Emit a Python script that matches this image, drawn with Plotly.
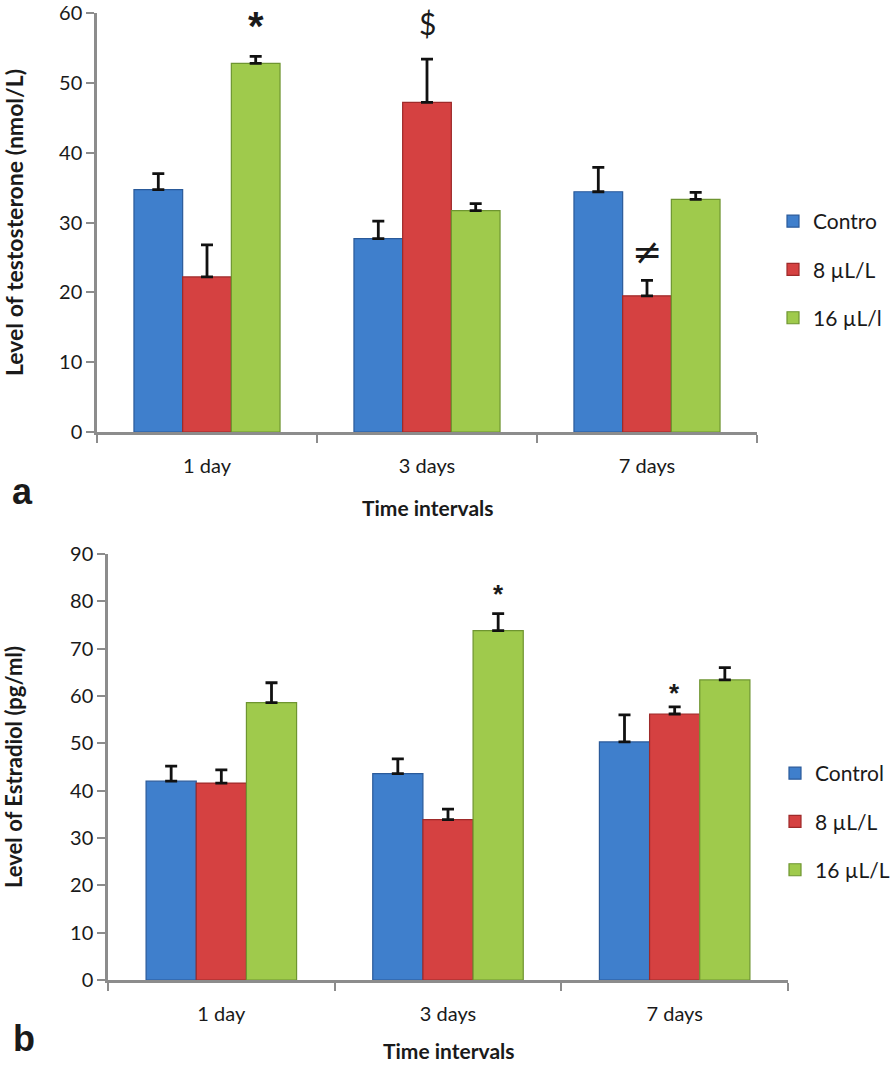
import plotly.graph_objects as go

categories = ["1 day", "3 days", "7 days"]

# Panel a: testosterone (nmol/L)
testo_control = [34.7, 27.7, 34.4]
testo_control_err = [2.3, 2.5, 3.5]
testo_8 = [22.2, 47.2, 19.5]
testo_8_err = [4.6, 6.2, 2.2]
testo_16 = [52.8, 31.7, 33.3]
testo_16_err = [1.0, 1.0, 1.0]
testo_names = ["Contro", "8 µL/L", "16 µL/l"]

# Panel b: estradiol (pg/ml)
estra_control = [42.0, 43.6, 50.3]
estra_control_err = [3.2, 3.1, 5.7]
estra_8 = [41.6, 33.9, 56.2]
estra_8_err = [2.8, 2.2, 1.5]
estra_16 = [58.6, 73.8, 63.4]
estra_16_err = [4.2, 3.6, 2.6]
estra_names = ["Control", "8 µL/L", "16 µL/L"]

colors = ["#3F7FCC", "#D54141", "#9FCA4C"]
edge = ["#2A5A9A", "#9E2A2A", "#6E9530"]

FONT = "Lato"
W, H = 896, 1066

def sx(p):
    return p / W

def sy(p):
    return (H - p) / H

fig = go.Figure()

def add_panel(vals, errs, names, xa, ya, legend):
    for v, e, n, c, ec in zip(vals, errs, names, colors, edge):
        fig.add_trace(go.Bar(
            x=categories, y=v, name=n, xaxis=xa, yaxis=ya,
            legend=legend, legendgroup=legend + n,
            marker=dict(color=c, line=dict(color=ec, width=1.2)),
            error_y=dict(type="data", array=e, arrayminus=[0] * len(e),
                         symmetric=False, color="#111111", thickness=2.8, width=6),
        ))

add_panel([testo_control, testo_8, testo_16],
          [testo_control_err, testo_8_err, testo_16_err], testo_names, "x", "y", "legend")
add_panel([estra_control, estra_8, estra_16],
          [estra_control_err, estra_8_err, estra_16_err], estra_names, "x2", "y2", "legend2")

axis_common = dict(showgrid=False, zeroline=False, showline=True, automargin=False,
                   linecolor="#8C8C8C", linewidth=2.5, ticks="outside",
                   tickcolor="#8C8C8C", ticklen=8, tickwidth=2,
                   ticklabeloverflow="allow",
                   tickfont=dict(family=FONT, size=20, color="#1a1a1a"))

bargap = 0.336
off = (1 - bargap) / 3

fig.update_layout(
    width=W, height=H, margin=dict(l=0, r=0, t=0, b=0, autoexpand=False),
    paper_bgcolor="white", plot_bgcolor="white",
    barmode="group", bargap=bargap, bargroupgap=0,
    font=dict(family=FONT, color="#1a1a1a"),
    xaxis=dict(domain=[sx(97), sx(757)], anchor="y", tickson="boundaries",
               ticklabelstandoff=14, **axis_common),
    yaxis=dict(domain=[sy(432), sy(13)], anchor="x", range=[0, 60], dtick=10,
               title=dict(text="<b>Level of testosterone (nmol/L)</b>",
                          font=dict(family=FONT, size=23), standoff=34),
               **axis_common),
    xaxis2=dict(domain=[sx(108), sx(788)], anchor="y2", tickson="boundaries",
                ticklabelstandoff=14, **axis_common),
    yaxis2=dict(domain=[sy(980), sy(554)], anchor="x2", range=[0, 90], dtick=10,
                title=dict(text="<b>Level of Estradiol (pg/ml)</b>",
                           font=dict(family=FONT, size=22), standoff=44),
                **axis_common),
    legend=dict(x=sx(773), y=sy(201), xanchor="left", yanchor="top",
                font=dict(family=FONT, size=21), tracegroupgap=18, itemwidth=30,
                bgcolor="rgba(0,0,0,0)"),
    legend2=dict(x=sx(775), y=sy(753), xanchor="left", yanchor="top",
                 font=dict(family=FONT, size=21), tracegroupgap=18, itemwidth=30,
                 bgcolor="rgba(0,0,0,0)"),
)

def ann(**kw):
    d = dict(showarrow=False, xanchor="center", yanchor="middle")
    d.update(kw)
    return d

annotations = [
    ann(x=0 + off, y=58.2, text="<b>*</b>", xref="x", yref="y",
        font=dict(family="Liberation Sans", size=40)),
    ann(x=1, y=58.6, text="$", xref="x", yref="y",
        font=dict(family=FONT, size=30)),
    ann(x=2, y=25.8, text="≠", xref="x", yref="y",
        font=dict(family="DejaVu Sans", size=36)),
    ann(x=1 + off, y=81.6, text="<b>*</b>", xref="x2", yref="y2",
        font=dict(family="Liberation Sans", size=26)),
    ann(x=2, y=60.6, text="<b>*</b>", xref="x2", yref="y2",
        font=dict(family="Liberation Sans", size=26)),
    ann(x=sx(427), y=sy(507), text="<b>Time intervals</b>", xref="paper", yref="paper",
        font=dict(family=FONT, size=21)),
    ann(x=sx(448), y=sy(1050), text="<b>Time intervals</b>", xref="paper", yref="paper",
        font=dict(family=FONT, size=21)),
    ann(x=sx(22), y=sy(491), text="<b>a</b>", xref="paper", yref="paper",
        font=dict(family="Liberation Sans", size=36)),
    ann(x=sx(24), y=sy(1038), text="<b>b</b>", xref="paper", yref="paper",
        font=dict(family="Liberation Sans", size=36)),
]
fig.update_layout(annotations=annotations)

fig.write_html("out.html", config={"displayModeBar": False},
               post_script="document.body.style.margin='0';document.body.style.overflow='hidden';")
